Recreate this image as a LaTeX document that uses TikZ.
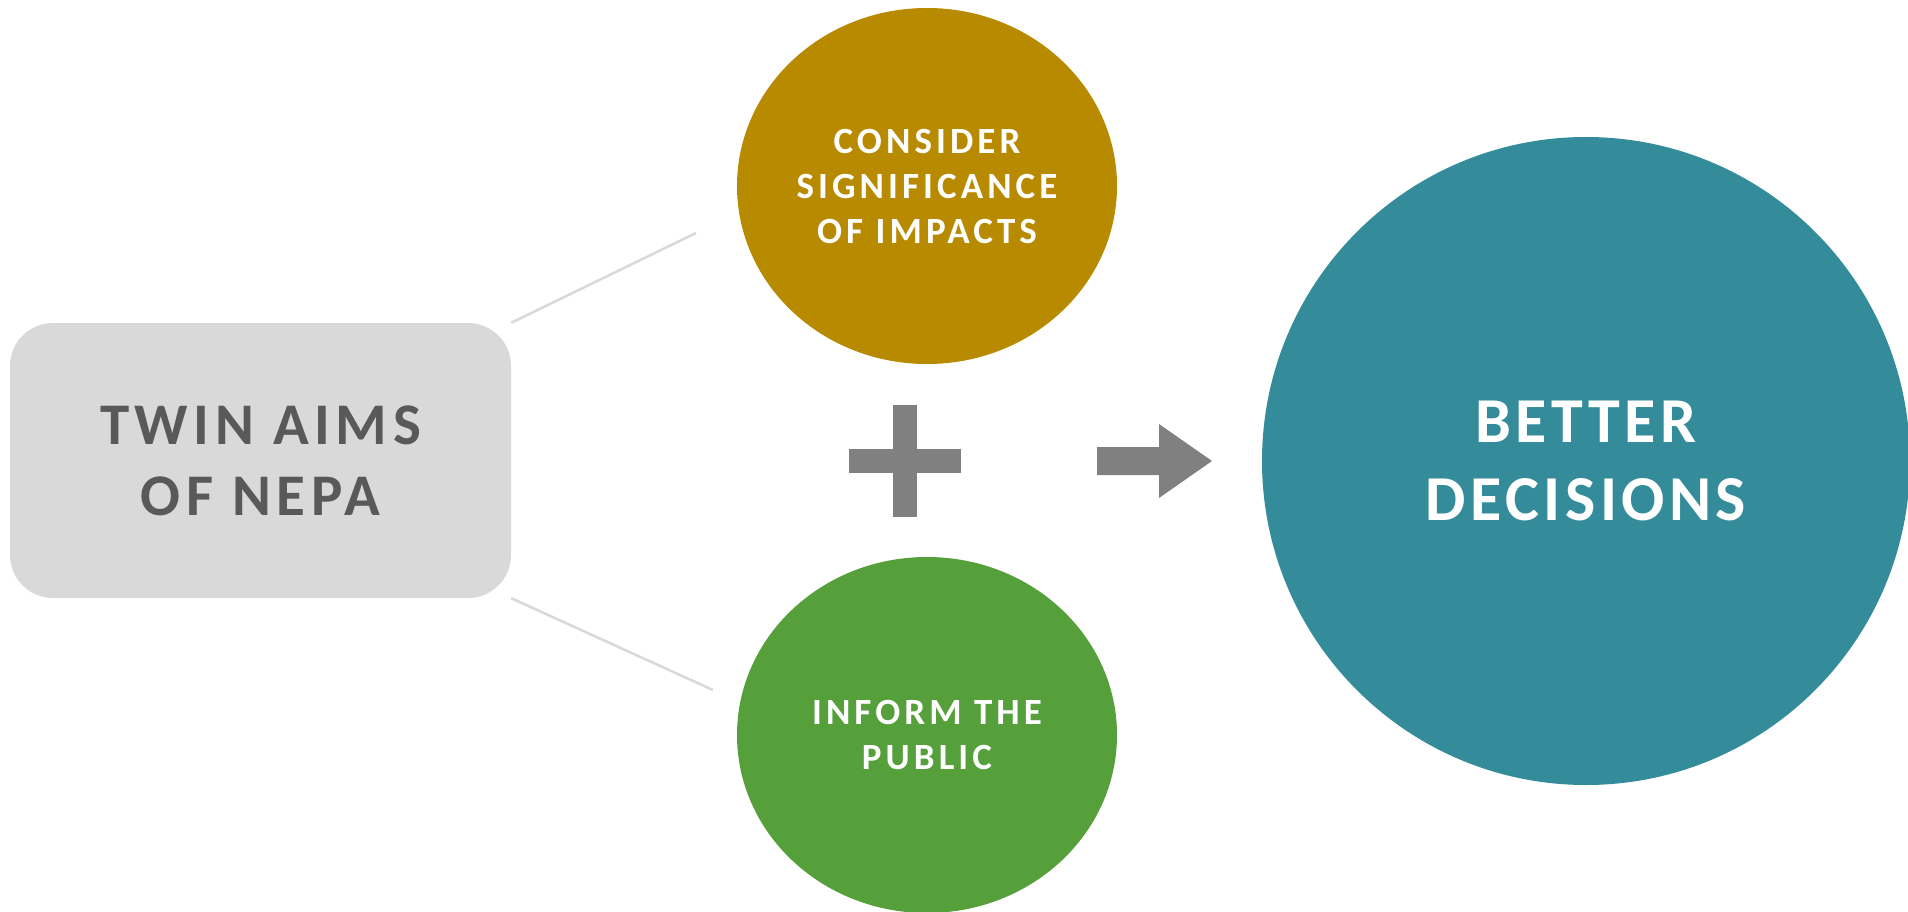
\documentclass[tikz,border=0pt]{standalone}
\usepackage{fontspec}
\usetikzlibrary{shapes.geometric}
\newfontfamily\rectfont{Carlito}[LetterSpace=9.5]
\newfontfamily\ellfont{Carlito}[LetterSpace=11]
\newfontfamily\circfont{Carlito}[LetterSpace=7]
\definecolor{boxgrey}{RGB}{217,217,217}
\definecolor{boxtext}{RGB}{89,89,89}
\definecolor{goldc}{RGB}{184,138,0}
\definecolor{greenc}{RGB}{85,160,58}
\definecolor{tealc}{RGB}{52,140,154}
\definecolor{markgrey}{RGB}{128,128,128}
\definecolor{linegrey}{RGB}{217,217,217}
\tikzset{
  aimbox/.style={rectangle, rounded corners=43pt, fill=boxgrey, minimum width=501pt, minimum height=275pt, inner sep=0pt, align=center, text=boxtext, font=\rectfont\bfseries\fontsize{59}{71}\selectfont},
  aimell/.style={ellipse, minimum width=380pt, minimum height=356pt, inner sep=0pt, align=center, text=white, font=\ellfont\bfseries\fontsize{37}{45}\selectfont},
  resultcirc/.style={circle, minimum size=648pt, inner sep=0pt, fill=tealc, align=center, text=white, font=\circfont\bfseries\fontsize{64}{78}\selectfont},
  linkline/.style={draw=linegrey, line width=2.5pt},
  markfill/.style={fill=markgrey}
}
\begin{document}
\begin{tikzpicture}[x=1pt,y=-1pt]
\fill[white] (0,0) rectangle (1908,912);
\useasboundingbox (0,0) rectangle (1908,912);

\node[aimbox] (twin) at (260.5,460.5) {TWIN AIMS\\OF NEPA};
\node[aimell, fill=goldc] (consider) at (927,186) {CONSIDER\\SIGNIFICANCE\\OF IMPACTS};
\node[aimell, fill=greenc] (inform) at (927,735) {INFORM THE\\PUBLIC};
\node[resultcirc] (better) at (1586,461) {BETTER\\DECISIONS};

\coordinate (topend) at (696,233);
\coordinate (botend) at (713,690);
\draw[linkline] (twin.north east) -- (topend);
\draw[linkline] (twin.south east) -- (botend);

% plus sign
\fill[markfill] (849,449) rectangle (961,473);
\fill[markfill] (893,405) rectangle (917,517);

% arrow
\fill[markfill] (1097,447) -- (1159,447) -- (1159,424) -- (1212,461) -- (1159,498) -- (1159,475) -- (1097,475) -- cycle;
\end{tikzpicture}
\end{document}
